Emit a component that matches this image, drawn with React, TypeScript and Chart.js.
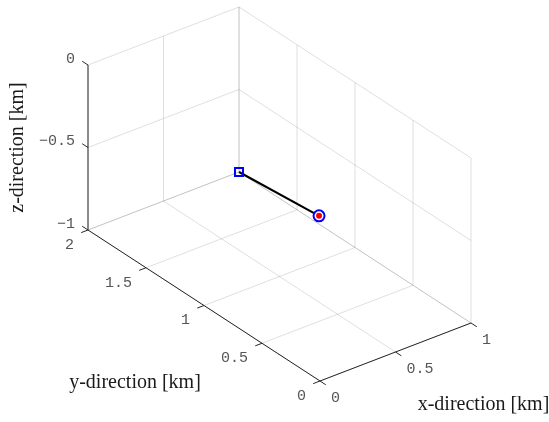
import React, { useEffect, useRef } from "react";
import { Chart, registerables } from "chart.js";

Chart.register(...registerables);

// ---- data ----
const xTicks = [0, 0.5, 1];
const yTicks = [0, 0.5, 1, 1.5, 2];
const zTicks = [-1, -0.5, 0];
const xTickLabels = ["0", "0.5", "1"];
const yTickLabels = ["0", "0.5", "1", "1.5", "2"];
const zTickLabels = ["\u22121", "\u22120.5", "0"];
const trajX = [1, 1];
const trajY = [2, 1.31];
const trajZ = [-1, -0.95];
const xTitle = "x-direction [km]";
const yTitle = "y-direction [km]";
const zTitle = "z-direction [km]";

// ---- view (3D -> 2D projection) ----
const VIEW = {
  ox: 320, oy: 381,
  ex: [151, -58],
  ey: [-116, -75.5],
  ez: [0, -165],
};
const xMin = 0, xMax = 1, yMin = 0, yMax = 2, zMin = -1, zMax = 0;

function proj(x: number, y: number, z: number) {
  return {
    x: VIEW.ox + x * VIEW.ex[0] + y * VIEW.ey[0] + (z - zMin) * VIEW.ez[0],
    y: VIEW.oy + x * VIEW.ex[1] + y * VIEW.ey[1] + (z - zMin) * VIEW.ez[1],
  };
}

type P3 = [number, number, number];

function seg(a: P3, b: P3, color: string, width: number) {
  return {
    type: "line" as const,
    data: [proj(...a), proj(...b)],
    borderColor: color,
    borderWidth: width,
    pointRadius: 0,
    fill: false,
    clip: false as any,
    tension: 0,
  };
}

const GRID = "rgba(38,38,38,0.15)";
const AX = "#262626";

function buildDatasets() {
  const ds: any[] = [];
  // floor z = zMin
  xTicks.forEach((t) => ds.push(seg([t, yMin, zMin], [t, yMax, zMin], GRID, 1)));
  yTicks.forEach((t) => ds.push(seg([xMin, t, zMin], [xMax, t, zMin], GRID, 1)));
  // back wall y = yMax
  xTicks.forEach((t) => ds.push(seg([t, yMax, zMin], [t, yMax, zMax], GRID, 1)));
  zTicks.forEach((t) => ds.push(seg([xMin, yMax, t], [xMax, yMax, t], GRID, 1)));
  // back wall x = xMax
  yTicks.forEach((t) => ds.push(seg([xMax, t, zMin], [xMax, t, zMax], GRID, 1)));
  zTicks.forEach((t) => ds.push(seg([xMax, yMin, t], [xMax, yMax, t], GRID, 1)));
  // axes
  ds.push(seg([xMin, yMin, zMin], [xMax, yMin, zMin], AX, 1));
  ds.push(seg([xMin, yMin, zMin], [xMin, yMax, zMin], AX, 1));
  ds.push(seg([xMin, yMax, zMin], [xMin, yMax, zMax], AX, 1));
  // ticks
  xTicks.forEach((t) => ds.push(seg([t, yMin, zMin], [t, yMin - 0.05, zMin], AX, 1)));
  yTicks.forEach((t) => ds.push(seg([xMin, t, zMin], [xMin - 0.045, t, zMin], AX, 1)));
  zTicks.forEach((t) => ds.push(seg([xMin, yMax, t], [xMin, yMax + 0.05, t], AX, 1)));
  // trajectory
  ds.push({
    type: "line",
    data: trajX.map((x, i) => proj(x, trajY[i], trajZ[i])),
    borderColor: "#000000",
    borderWidth: 2,
    pointRadius: 0,
    fill: false,
    clip: false,
  });
  const n = trajX.length - 1;
  ds.push({
    type: "scatter",
    data: [proj(trajX[0], trajY[0], trajZ[0])],
    pointStyle: "rect",
    pointRadius: 5.7,
    borderColor: "#0000ff",
    backgroundColor: "rgba(0,0,0,0)",
    borderWidth: 2,
    clip: false,
  });
  ds.push({
    type: "scatter",
    data: [proj(trajX[n], trajY[n], trajZ[n])],
    pointStyle: "circle",
    pointRadius: 5.5,
    borderColor: "#0000ff",
    backgroundColor: "#ffffff",
    borderWidth: 2,
    clip: false,
  });
  ds.push({
    type: "scatter",
    data: [proj(trajX[n], trajY[n], trajZ[n])],
    pointStyle: "circle",
    pointRadius: 3,
    borderColor: "#ff0000",
    backgroundColor: "#ff0000",
    borderWidth: 0,
    clip: false,
  });
  // Chart.js paints dataset 0 on top, so reverse to paint grid first
  return ds.reverse();
}

const labelsPlugin = {
  id: "labels3d",
  afterDraw(chart: any) {
    const ctx = chart.ctx;
    const sx = chart.scales.x;
    const sy = chart.scales.y;
    const px = (x: number, y: number, z: number) => {
      const p = proj(x, y, z);
      return [sx.getPixelForValue(p.x), sy.getPixelForValue(p.y)];
    };
    ctx.save();
    ctx.font = '15px "Liberation Mono", monospace';
    ctx.fillStyle = "#555555";
    ctx.textBaseline = "middle";
    // x tick labels
    ctx.textAlign = "left";
    xTicks.forEach((t, i) => {
      const [a, b] = px(t, yMin, zMin);
      ctx.fillText(xTickLabels[i], a + 11, b + 17);
    });
    // y tick labels
    ctx.textAlign = "right";
    yTicks.forEach((t, i) => {
      const [a, b] = px(xMin, t, zMin);
      ctx.fillText(yTickLabels[i], a - 14, b + 15);
    });
    // z tick labels
    zTicks.forEach((t, i) => {
      const [a, b] = px(xMin, yMax, t);
      ctx.fillText(zTickLabels[i], a - 13, b - 6);
    });
    // titles
    ctx.font = '20px "Liberation Serif", serif';
    ctx.fillStyle = "#1a1a1a";
    ctx.textAlign = "center";
    {
      const [a, b] = px((xMin + xMax) / 2, yMin, zMin);
      ctx.fillText(xTitle, a + 88, b + 53);
    }
    {
      const [a, b] = px(xMin, (yMin + yMax) / 2, zMin);
      ctx.fillText(yTitle, a - 69, b + 77);
    }
    {
      const [a, b] = px(xMin, yMax, (zMin + zMax) / 2);
      ctx.translate(a - 70, b);
      ctx.rotate(-Math.PI / 2);
      ctx.fillText(zTitle, 0, 0);
    }
    ctx.restore();
  },
};

export default function App() {
  const ref = useRef<HTMLCanvasElement | null>(null);
  useEffect(() => {
    if (!ref.current) return;
    const chart = new Chart(ref.current, {
      type: "scatter",
      data: { datasets: buildDatasets() },
      options: {
        animation: false,
        responsive: false,
        maintainAspectRatio: false,
        devicePixelRatio: 1,
        layout: { padding: 0, autoPadding: false },
        plugins: { legend: { display: false }, tooltip: { enabled: false } },
        events: [],
        scales: {
          x: { type: "linear", min: 0, max: 549, display: false },
          y: { type: "linear", min: 0, max: 422, reverse: true, display: false },
        },
      },
      plugins: [labelsPlugin],
    } as any);
    return () => chart.destroy();
  }, []);
  return (
    <div style={{ position: "absolute", left: 0, top: 0, width: 549, height: 422, background: "#fff" }}>
      <canvas ref={ref} width={549} height={422} style={{ display: "block" }} />
    </div>
  );
}
